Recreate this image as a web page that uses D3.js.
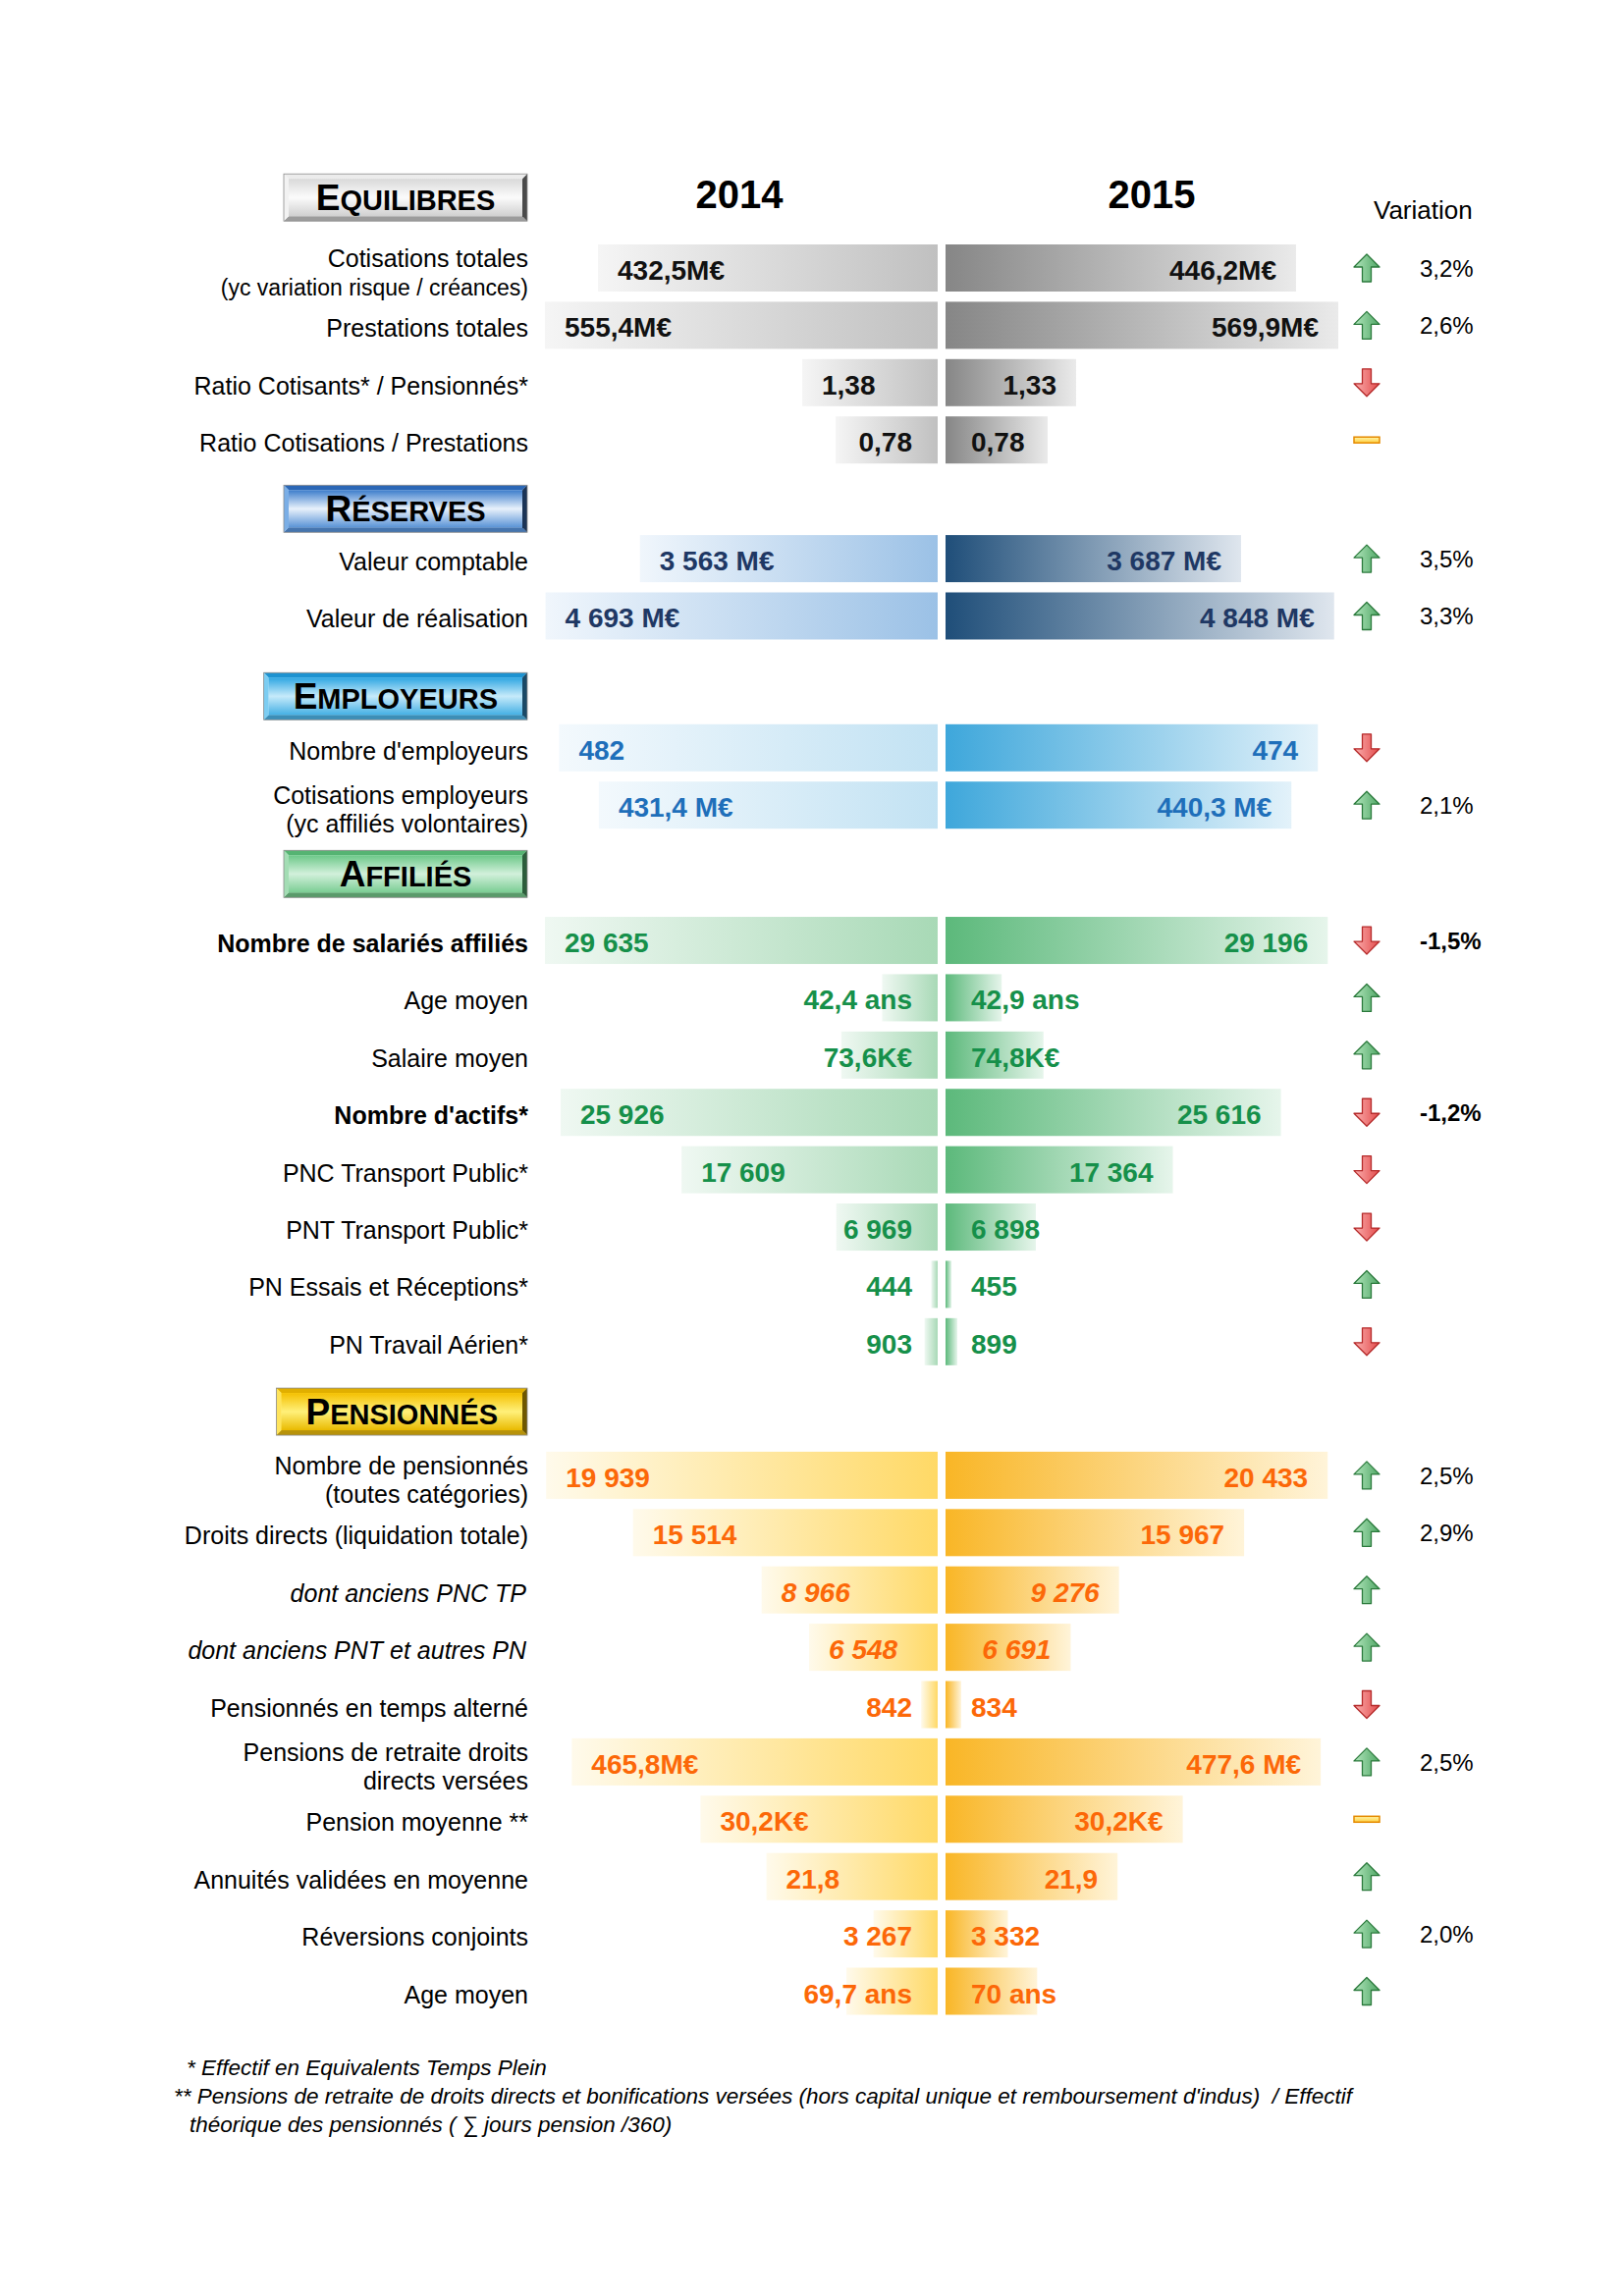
<!DOCTYPE html>
<html>
<head>
<meta charset="utf-8">
<script src="https://cdn.jsdelivr.net/npm/d3@7"></script>
<style>
  body { margin: 0; background: #ffffff; }
  svg text { font-family: "Liberation Sans", Arial, sans-serif; }
</style>
</head>
<body>
<svg id="chart" width="1654" height="2339"></svg>
<script>
// ---- data ----
var years = ["2014", "2015"];
var sections = ["Equilibres", "Réserves", "Employeurs", "Affiliés", "Pensionnés"];
var rowSection = [0, 0, 0, 0, 1, 1, 2, 2, 3, 3, 3, 3, 3, 3, 3, 3, 4, 4, 4, 4, 4, 4, 4, 4, 4, 4];

var rowLabels = [
  ["Cotisations totales", "(yc variation risque / créances)"],
  ["Prestations totales"],
  ["Ratio Cotisants* / Pensionnés*"],
  ["Ratio Cotisations / Prestations"],
  ["Valeur comptable"],
  ["Valeur de réalisation"],
  ["Nombre d'employeurs"],
  ["Cotisations employeurs", "(yc affiliés volontaires)"],
  ["Nombre de salariés affiliés"],
  ["Age moyen"],
  ["Salaire moyen"],
  ["Nombre d'actifs*"],
  ["PNC Transport Public*"],
  ["PNT Transport Public*"],
  ["PN Essais et Réceptions*"],
  ["PN Travail Aérien*"],
  ["Nombre de pensionnés", "(toutes catégories)"],
  ["Droits directs (liquidation totale)"],
  ["dont anciens PNC TP"],
  ["dont anciens PNT et autres PN"],
  ["Pensionnés en temps alterné"],
  ["Pensions de retraite droits", "directs versées"],
  ["Pension moyenne **"],
  ["Annuités validées en moyenne"],
  ["Réversions conjoints"],
  ["Age moyen"]
];

var values2014 = [432.5, 555.4, 1.38, 0.78, 3563, 4693, 482, 431.4, 29635, 42.4, 73.6, 25926, 17609, 6969, 444, 903,
                  19939, 15514, 8966, 6548, 842, 465.8, 30.2, 21.8, 3267, 69.7];
var values2015 = [446.2, 569.9, 1.33, 0.78, 3687, 4848, 474, 440.3, 29196, 42.9, 74.8, 25616, 17364, 6898, 455, 899,
                  20433, 15967, 9276, 6691, 834, 477.6, 30.2, 21.9, 3332, 70];

var text2014 = ["432,5M€", "555,4M€", "1,38", "0,78", "3 563 M€", "4 693 M€", "482", "431,4 M€", "29 635", "42,4 ans",
                "73,6K€", "25 926", "17 609", "6 969", "444", "903", "19 939", "15 514", "8 966", "6 548", "842",
                "465,8M€", "30,2K€", "21,8", "3 267", "69,7 ans"];
var text2015 = ["446,2M€", "569,9M€", "1,33", "0,78", "3 687 M€", "4 848 M€", "474", "440,3 M€", "29 196", "42,9 ans",
                "74,8K€", "25 616", "17 364", "6 898", "455", "899", "20 433", "15 967", "9 276", "6 691", "834",
                "477,6 M€", "30,2K€", "21,9", "3 332", "70 ans"];

// axis maximum of each row (the bars are clamped at the end of their axis)
var axisMax2014 = [500, 500, 4, 3, 4700, 4700, 500, 500, 27000, 300, 300, 27000, 27000, 27000, 27000, 27000,
                   20000, 20000, 20000, 20000, 20000, 500, 50, 50, 20000, 300];
var axisMax2015 = [500, 500, 4, 3, 4900, 4900, 500, 500, 30000, 300, 300, 30000, 30000, 30000, 30000, 30000,
                   21000, 21000, 21000, 21000, 21000, 500, 50, 50, 21000, 300];

var variation = ["3,2%", "2,6%", "", "", "3,5%", "3,3%", "", "2,1%", "-1,5%", "", "", "-1,2%", "", "", "", "",
                 "2,5%", "2,9%", "", "", "", "2,5%", "", "", "2,0%", ""];
var trend = ["up", "up", "down", "flat", "up", "up", "down", "up", "down", "up", "up", "down", "down", "down", "up", "down",
             "up", "up", "up", "up", "down", "up", "flat", "up", "up", "up"];
var boldRows = [8, 11];
var italicRows = [18, 19];

var footnotes = [
  "* Effectif en Equivalents Temps Plein",
  "** Pensions de retraite de droits directs et bonifications versées (hors capital unique et remboursement d'indus)  / Effectif",
  "théorique des pensionnés ( ∑ jours pension /360)"
];

// ---- styles ----
var themes = [
  { text: "#111111", l0: "#f5f5f5", l1: "#c0c0c0", r0: "#868686", r1: "#eaeaea",
    face: ["#d9d9d9", "#fbfbfb", "#d0d0d0"], top: "#ececec", left: "#f2f2f2", right: "#4a4a4a", bottom: "#9c9c9c" },
  { text: "#1f3864", l0: "#f0f6fc", l1: "#9bc1e6", r0: "#1f4e79", r1: "#dfe6ee",
    face: ["#3d7dcb", "#e8f1fb", "#5a93d6"], top: "#2b67b6", left: "#7aaee6", right: "#1b3456", bottom: "#4675ae" },
  { text: "#1f6fba", l0: "#f3f9fd", l1: "#c2e2f3", r0: "#3ea7db", r1: "#e3f2fa",
    face: ["#2ea6e2", "#c6eafa", "#45b0e4"], top: "#1d93d1", left: "#7ccdf2", right: "#1a4966", bottom: "#3c8eb7" },
  { text: "#16904a", l0: "#eff8f2", l1: "#a8d9b6", r0: "#5cb97b", r1: "#e6f5eb",
    face: ["#6cc888", "#d2f0db", "#7acd93"], top: "#55b472", left: "#a3ddb4", right: "#2c5d3b", bottom: "#5a9b6b" },
  { text: "#fc6808", l0: "#fffaeb", l1: "#ffd966", r0: "#f9b626", r1: "#fff4d9",
    face: ["#f4c000", "#fff07a", "#e9ba00"], top: "#e1af00", left: "#ffe45c", right: "#6e5700", bottom: "#b7920a" }
];

var svg = d3.select("#chart");
var defs = svg.append("defs");

function grad(id, stops, vertical) {
  var g = defs.append("linearGradient").attr("id", id)
    .attr("x1", 0).attr("y1", 0)
    .attr("x2", vertical ? 0 : 1).attr("y2", vertical ? 1 : 0);
  stops.forEach(function (c, k) {
    g.append("stop").attr("offset", k / (stops.length - 1)).attr("stop-color", c);
  });
}

themes.forEach(function (t, s) {
  grad("barL" + s, [t.l0, t.l1]);
  grad("barR" + s, [t.r0, t.r1]);
  grad("face" + s, t.face, true);
});
grad("arrUp", ["#b3e6bd", "#4fa765"]);
grad("arrDown", ["#fbb0b0", "#e24a4a"]);
grad("arrFlat", ["#fff4a8", "#ffcf40"], true);

// ---- layout ----
var xLeftEnd = 955, xRightStart = 963, halfWidth = 400, barH = 48;
var labelX = 538, arrowX = 1392, varX = 1446, boxRight = 537;
var pitch = 58.4;
// gap (in rows) before each section, and how far its header box sits above its first row
var sectionGap = [0, 2.07, 2.3, 2.36, 2.33];
var headerLift = [1.23, 0.87, 0.9, 1.16, 1.11];

var yScale = d3.scaleLinear().domain([0, 1]).range([273, 273 + pitch]);
function slot(i) {
  var s = rowSection[i], extra = d3.sum(sectionGap.slice(0, s + 1)) - s;
  return i + extra;
}
function headerY(s) { return yScale(slot(rowSection.indexOf(s)) - headerLift[s]); }

var rows = rowLabels.map(function (lab, i) {
  return {
    i: i, s: rowSection[i], label: lab,
    y: yScale(slot(i)),
    w14: d3.scaleLinear().domain([0, axisMax2014[i]]).range([0, halfWidth]).clamp(true)(values2014[i]),
    w15: d3.scaleLinear().domain([0, axisMax2015[i]]).range([0, halfWidth]).clamp(true)(values2015[i]),
    t14: text2014[i], t15: text2015[i],
    vari: variation[i], trend: trend[i],
    bold: boldRows.indexOf(i) >= 0, italic: italicRows.indexOf(i) >= 0
  };
});

// ---- year headers ----
var yearY = headerY(0) - 3;
svg.selectAll("text.year").data(years).join("text")
  .attr("class", "year")
  .attr("x", function (d, k) { return k === 0 ? xLeftEnd - halfWidth / 2 - 2 : xRightStart + halfWidth / 2 + 10; })
  .attr("y", yearY + 14)
  .attr("text-anchor", "middle")
  .attr("font-size", 40)
  .attr("font-weight", "bold")
  .attr("fill", "#000")
  .text(function (d) { return d; });

svg.append("text")
  .attr("x", 1399).attr("y", yearY + 25)
  .attr("font-size", 26)
  .attr("fill", "#000")
  .text("Variation");

// ---- section header boxes ----
sections.forEach(function (name, s) {
  var t = themes[s], yc = headerY(s), h = 48, b = 5;
  var up = name.toUpperCase();
  var g = svg.append("g");
  var label = g.append("text")
    .attr("font-weight", "bold")
    .attr("fill", "#000")
    .attr("text-anchor", "middle");
  label.append("tspan").attr("font-size", 37).text(up.charAt(0));
  label.append("tspan").attr("font-size", 29).text(up.slice(1));
  var tw = label.node().getComputedTextLength();
  var w = Math.max(tw + 60, 248), x0 = boxRight - w, y0 = yc - h / 2;

  g.insert("rect", "text").attr("x", x0).attr("y", y0).attr("width", w).attr("height", h).attr("fill", t.face[1]);
  var bevels = [
    [[x0, y0], [x0 + w, y0], [x0 + w - b, y0 + b], [x0 + b, y0 + b], t.top],
    [[x0, y0 + h], [x0 + w, y0 + h], [x0 + w - b, y0 + h - b], [x0 + b, y0 + h - b], t.bottom],
    [[x0, y0], [x0 + b, y0 + b], [x0 + b, y0 + h - b], [x0, y0 + h], t.left],
    [[x0 + w, y0], [x0 + w - b, y0 + b], [x0 + w - b, y0 + h - b], [x0 + w, y0 + h], t.right]
  ];
  bevels.forEach(function (p) {
    g.insert("polygon", "text").attr("points", p.slice(0, 4).map(function (q) { return q.join(","); }).join(" "))
      .attr("fill", p[4]);
  });
  g.insert("rect", "text").attr("x", x0 + b).attr("y", y0 + b).attr("width", w - 2 * b).attr("height", h - 2 * b)
    .attr("fill", "url(#face" + s + ")");
  g.insert("rect", "text").attr("x", x0).attr("y", y0).attr("width", w).attr("height", h)
    .attr("fill", "none").attr("stroke", "#8c8c8c").attr("stroke-width", 0.8);
  label.attr("x", x0 + w / 2).attr("y", yc + 13);
});

// ---- bars ----
svg.selectAll("rect.bar14").data(rows).join("rect")
  .attr("class", "bar14")
  .attr("x", function (d) { return xLeftEnd - d.w14; })
  .attr("y", function (d) { return d.y - barH / 2; })
  .attr("width", function (d) { return d.w14; })
  .attr("height", barH)
  .attr("fill", function (d) { return "url(#barL" + d.s + ")"; });

svg.selectAll("rect.bar15").data(rows).join("rect")
  .attr("class", "bar15")
  .attr("x", xRightStart)
  .attr("y", function (d) { return d.y - barH / 2; })
  .attr("width", function (d) { return d.w15; })
  .attr("height", barH)
  .attr("fill", function (d) { return "url(#barR" + d.s + ")"; });

// values: written inside long bars, next to the middle for short ones
var wide = 120, padIn = 20, gapMidL = 26, gapMidR = 26;
svg.selectAll("text.v14").data(rows).join("text")
  .attr("class", "v14")
  .attr("x", function (d) { return d.w14 >= wide ? xLeftEnd - d.w14 + padIn : xLeftEnd - gapMidL; })
  .attr("text-anchor", function (d) { return d.w14 >= wide ? "start" : "end"; })
  .attr("y", function (d) { return d.y + 12; })
  .attr("font-size", 28)
  .attr("font-weight", "bold")
  .attr("font-style", function (d) { return d.italic ? "italic" : "normal"; })
  .attr("fill", function (d) { return themes[d.s].text; })
  .text(function (d) { return d.t14; });

svg.selectAll("text.v15").data(rows).join("text")
  .attr("class", "v15")
  .attr("x", function (d) { return d.w15 >= wide ? xRightStart + d.w15 - padIn : xRightStart + gapMidR; })
  .attr("text-anchor", function (d) { return d.w15 >= wide ? "end" : "start"; })
  .attr("y", function (d) { return d.y + 12; })
  .attr("font-size", 28)
  .attr("font-weight", "bold")
  .attr("font-style", function (d) { return d.italic ? "italic" : "normal"; })
  .attr("fill", function (d) { return themes[d.s].text; })
  .text(function (d) { return d.t15; });

// ---- row labels ----
var labels = svg.selectAll("text.lab").data(rows).join("text")
  .attr("class", "lab")
  .attr("text-anchor", "end")
  .attr("font-size", 25)
  .attr("font-weight", function (d) { return d.bold ? "bold" : "normal"; })
  .attr("font-style", function (d) { return d.italic ? "italic" : "normal"; })
  .attr("fill", "#000");
labels.selectAll("tspan").data(function (d) {
    return d.label.map(function (l, k) {
      var off = d.label.length === 1 ? 12 : (k === 0 ? -1 : 28);
      return { text: l, y: d.y + off, x: d.italic ? labelX - 2 : labelX, small: k === 1 && l.length > 28 };
    });
  }).join("tspan")
  .attr("x", function (d) { return d.x; })
  .attr("y", function (d) { return d.y; })
  .attr("font-size", function (d) { return d.small ? 23 : null; })
  .text(function (d) { return d.text; });

// ---- trend arrows ----
var arrowPath = {
  up: "M0,-14 L13,-1 L4.5,-1 L4.5,14 L-4.5,14 L-4.5,-1 L-13,-1 Z",
  down: "M0,14 L13,1 L4.5,1 L4.5,-14 L-4.5,-14 L-4.5,1 L-13,1 Z"
};
rows.forEach(function (d) {
  var g = svg.append("g").attr("transform", "translate(" + arrowX + "," + d.y + ")");
  if (d.trend === "flat") {
    g.append("rect").attr("x", -13).attr("y", -3).attr("width", 26).attr("height", 6)
      .attr("fill", "url(#arrFlat)").attr("stroke", "#e58a00").attr("stroke-width", 1.5);
  } else {
    g.append("path").attr("d", arrowPath[d.trend])
      .attr("fill", d.trend === "up" ? "url(#arrUp)" : "url(#arrDown)")
      .attr("stroke", d.trend === "up" ? "#2b7a3c" : "#b52a2a")
      .attr("stroke-width", 1.3)
      .attr("stroke-linejoin", "round");
  }
});

svg.selectAll("text.vari").data(rows.filter(function (d) { return d.vari; })).join("text")
  .attr("class", "vari")
  .attr("x", varX)
  .attr("y", function (d) { return d.y + 9; })
  .attr("font-size", 24)
  .attr("font-weight", function (d) { return d.bold ? "bold" : "normal"; })
  .attr("fill", "#000")
  .text(function (d) { return d.vari; });

// ---- footnotes ----
var footIndent = [13, 0, 16];
svg.selectAll("text.foot").data(footnotes).join("text")
  .attr("class", "foot")
  .attr("x", function (d, k) { return 177 + footIndent[k]; })
  .attr("y", function (d, k) { return 2114 + k * 29; })
  .attr("font-size", 22.5)
  .attr("font-style", "italic")
  .attr("fill", "#000")
  .style("white-space", "pre")
  .text(function (d) { return d; });
</script>
</body>
</html>
